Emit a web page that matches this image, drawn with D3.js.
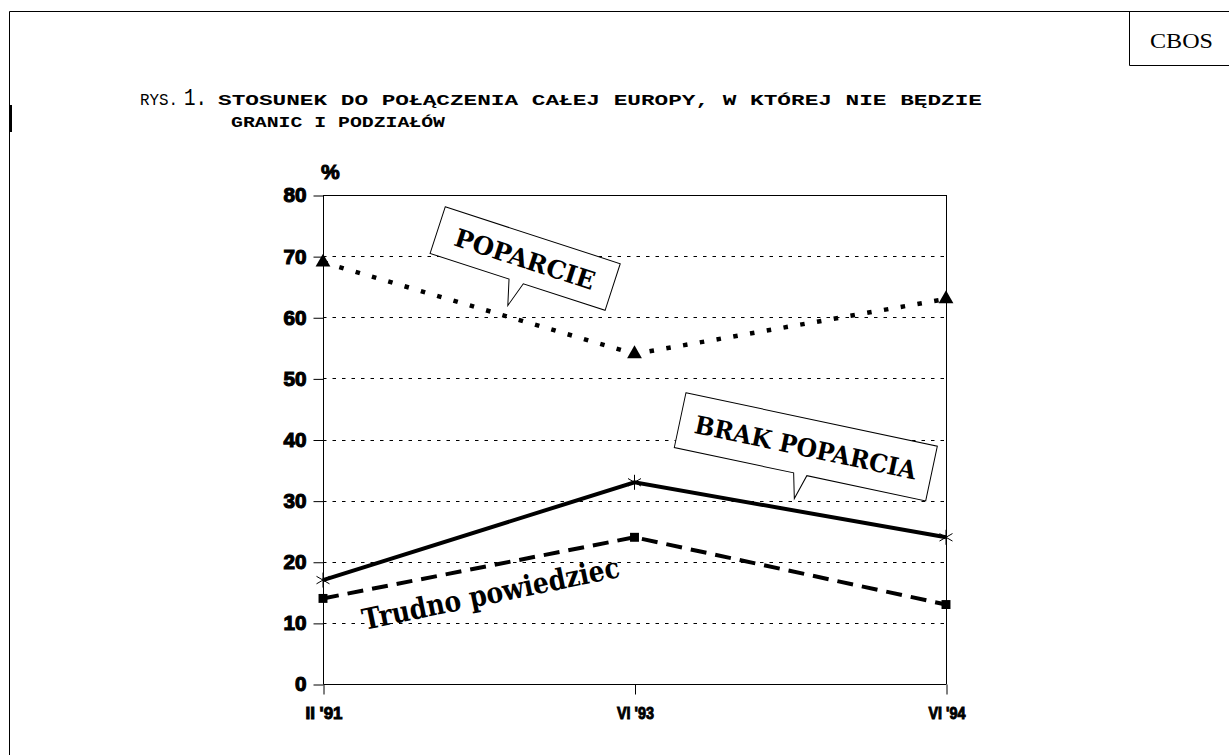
<!DOCTYPE html>
<html>
<head>
<meta charset="utf-8">
<script src="https://cdn.jsdelivr.net/npm/d3@7"></script>
<style>
  html, body { margin: 0; padding: 0; background: #fff; }
  svg { display: block; }
</style>
</head>
<body>
<svg id="chart" width="1229" height="755"></svg>
<script>
// ---- data ----
const categories = ["II '91", "VI '93", "VI '94"];
const poparcie = [69, 54, 63];
const brakPoparcia = [17, 33, 24];
const trudnoPowiedziec = [14, 24, 13];
const yTicks = [0, 10, 20, 30, 40, 50, 60, 70, 80];
const titleLine1 = "STOSUNEK DO POŁĄCZENIA CAŁEJ EUROPY, W KTÓREJ NIE BĘDZIE";
const titleLine2 = "GRANIC I PODZIAŁÓW";
const labelPoparcie = "POPARCIE";
const labelBrak = "BRAK POPARCIA";
const labelTrudno = "Trudno powiedziec";

const svg = d3.select("#chart");
const W = 1229, H = 755;

// frame
svg.append("line").attr("x1", 9.5).attr("x2", W).attr("y1", 11.5).attr("y2", 11.5).attr("stroke", "#000").attr("stroke-width", 1);
svg.append("line").attr("x1", 9.5).attr("x2", 9.5).attr("y1", 11.5).attr("y2", H).attr("stroke", "#000").attr("stroke-width", 1);
svg.append("rect").attr("x", 9).attr("y", 105).attr("width", 3).attr("height", 27).attr("fill", "#000");
svg.append("line").attr("x1", 1129.5).attr("x2", 1129.5).attr("y1", 11.5).attr("y2", 65.5).attr("stroke", "#000");
svg.append("line").attr("x1", 1129.5).attr("x2", W).attr("y1", 65.5).attr("y2", 65.5).attr("stroke", "#000");
svg.append("text").attr("x", 1150).attr("y", 48).attr("font-family", "Liberation Serif, serif")
  .attr("font-size", 21).attr("textLength", 63).attr("lengthAdjust", "spacingAndGlyphs").text("CBOS");

// title
const mono = "Liberation Mono, DejaVu Sans Mono, monospace";
svg.append("text").attr("x", 140).attr("y", 105).attr("font-family", mono).attr("font-size", 16)
  .attr("textLength", 38).attr("lengthAdjust", "spacingAndGlyphs").text("RYS.");
svg.append("text").attr("x", 184).attr("y", 105).attr("font-family", mono).attr("font-size", 23)
  .attr("textLength", 23).attr("lengthAdjust", "spacingAndGlyphs").text("1.");
svg.append("text").attr("x", 218).attr("y", 105).attr("font-family", mono).attr("font-size", 15).attr("font-weight", "bold")
  .attr("textLength", 764).attr("lengthAdjust", "spacingAndGlyphs").text(titleLine1);
svg.append("text").attr("x", 231).attr("y", 127).attr("font-family", mono).attr("font-size", 15).attr("font-weight", "bold")
  .attr("textLength", 214).attr("lengthAdjust", "spacingAndGlyphs").text(titleLine2);

// scales
const x = d3.scalePoint().domain(categories).range([323, 946]);
const xi = d3.scaleLinear().domain([0, categories.length - 1]).range([323, 946]);
const y = d3.scaleLinear().domain([0, 80]).range([684, 195]);

const sans = "Liberation Sans, Arial, sans-serif";

// gridlines
svg.append("g").selectAll("line").data(yTicks.filter(d => d > 0 && d < 80)).join("line")
  .attr("x1", x.range()[0]).attr("x2", x.range()[1])
  .attr("y1", d => Math.round(y(d)) + 0.5).attr("y2", d => Math.round(y(d)) + 0.5)
  .attr("stroke", "#000").attr("stroke-width", 1).attr("stroke-dasharray", "3.5,6");

// frame of plot: top and right
svg.append("line").attr("x1", 323).attr("x2", 946.5).attr("y1", Math.round(y(80)) + 0.5).attr("y2", Math.round(y(80)) + 0.5).attr("stroke", "#000");
svg.append("line").attr("x1", 946.5).attr("x2", 946.5).attr("y1", y(80)).attr("y2", y(0)).attr("stroke", "#000");

// y axis
const yAxis = d3.axisLeft(y).tickValues(yTicks).tickSize(10).tickPadding(7).tickFormat(d3.format("d"));
const gy = svg.append("g").attr("transform", "translate(323.5,0.5)").call(yAxis);
gy.select(".domain").attr("d", `M0,${y(80)}V${y(0)}`).attr("stroke", "#000");
gy.selectAll(".tick line").attr("stroke", "#000");
gy.selectAll(".tick text").attr("font-family", sans).attr("font-size", 20).attr("font-weight", "bold")
  .attr("fill", "#000").attr("stroke", "#000").attr("stroke-width", 1.1)
  .attr("textLength", d => d === 0 ? 11.5 : 23).attr("lengthAdjust", "spacingAndGlyphs");
svg.append("text").attr("x", 321).attr("y", 179).attr("font-family", sans).attr("font-size", 21)
  .attr("font-weight", "bold").attr("stroke", "#000").attr("stroke-width", 1).text("%");

// x axis
const xAxis = d3.axisBottom(x).tickSize(10).tickPadding(12);
const gx = svg.append("g").attr("transform", `translate(0.5,${Math.round(y(0)) + 0.5})`).call(xAxis);
gx.select(".domain").attr("d", `M${x.range()[0]},0H${x.range()[1]}`).attr("stroke", "#000");
gx.selectAll(".tick line").attr("stroke", "#000");
gx.selectAll(".tick text").attr("font-family", sans).attr("font-size", 17).attr("font-weight", "bold")
  .attr("fill", "#000").attr("stroke", "#000").attr("stroke-width", 1)
  .attr("textLength", 37).attr("lengthAdjust", "spacingAndGlyphs");

// lines
const line = d3.line().x((d, i) => x(categories[i])).y(d => y(d));
svg.append("path").datum(poparcie).attr("d", line).attr("fill", "none").attr("stroke", "#000")
  .attr("stroke-width", 4.5).attr("stroke-dasharray", "4.5,12.5");
svg.append("path").datum(brakPoparcia).attr("d", line).attr("fill", "none").attr("stroke", "#000")
  .attr("stroke-width", 4);
svg.append("path").datum(trudnoPowiedziec).attr("d", line).attr("fill", "none").attr("stroke", "#000")
  .attr("stroke-width", 4).attr("stroke-dasharray", "16,9");

// markers
const tri = d3.symbol().type(d3.symbolTriangle).size(95);
svg.append("g").selectAll("path").data(poparcie).join("path")
  .attr("transform", (d, i) => `translate(${x(categories[i])},${y(d)})`)
  .attr("d", tri).attr("fill", "#000");
svg.append("g").selectAll("path").data(trudnoPowiedziec).join("path")
  .attr("transform", (d, i) => `translate(${x(categories[i])},${y(d)})`)
  .attr("d", d3.symbol().type(d3.symbolSquare).size(80)).attr("fill", "#000");
const star = g => {
  const r = 7.5;
  [90, 30, 150].forEach(a => {
    const rad = a * Math.PI / 180;
    g.append("line").attr("x1", -r * Math.cos(rad)).attr("y1", -r * Math.sin(rad))
      .attr("x2", r * Math.cos(rad)).attr("y2", r * Math.sin(rad)).attr("stroke", "#000").attr("stroke-width", 1);
  });
};
brakPoparcia.forEach((d, i) => {
  const g = svg.append("g").attr("transform", `translate(${x(categories[i])},${y(d)})`);
  star(g);
});

// callouts (positioned in data space: category index, value)
const serif = "DejaVu Serif, Liberation Serif, serif";
function callout(ci, val, angle, w, h, base, tip, label, fs, tl) {
  const cx = xi(ci), cy = y(val);
  const g = svg.append("g").attr("transform", `translate(${cx},${cy}) rotate(${angle})`);
  const hw = w / 2, hh = h / 2;
  const pts = [[-hw, -hh], [hw, -hh], [hw, hh], [base[1], hh], tip, [base[0], hh], [-hw, hh]];
  g.append("path").attr("d", "M" + pts.map(p => p.join(",")).join("L") + "Z")
    .attr("fill", "#fff").attr("stroke", "#000").attr("stroke-width", 1);
  g.append("text").attr("x", 0).attr("y", 1).attr("text-anchor", "middle").attr("dominant-baseline", "central")
    .attr("font-family", serif).attr("font-weight", "bold").attr("font-size", fs)
    .attr("textLength", tl).attr("lengthAdjust", "spacingAndGlyphs").text(label);
}
callout(0.649, 69.6, 18, 184, 49, [-9, 6], [-2, 50], labelPoparcie, 25, 146);
callout(1.55, 38.8, 12, 257, 56, [-6.5, 7], [-0.5, 53], labelBrak, 25, 226);

// Trudno powiedziec label
svg.append("text").attr("transform", `translate(${xi(0.545)},${y(13.2)}) rotate(-11.7)`)
  .attr("text-anchor", "middle").attr("font-family", serif).attr("font-weight", "bold").attr("font-size", 29)
  .attr("textLength", 262).attr("lengthAdjust", "spacingAndGlyphs").text(labelTrudno);
</script>
</body>
</html>
